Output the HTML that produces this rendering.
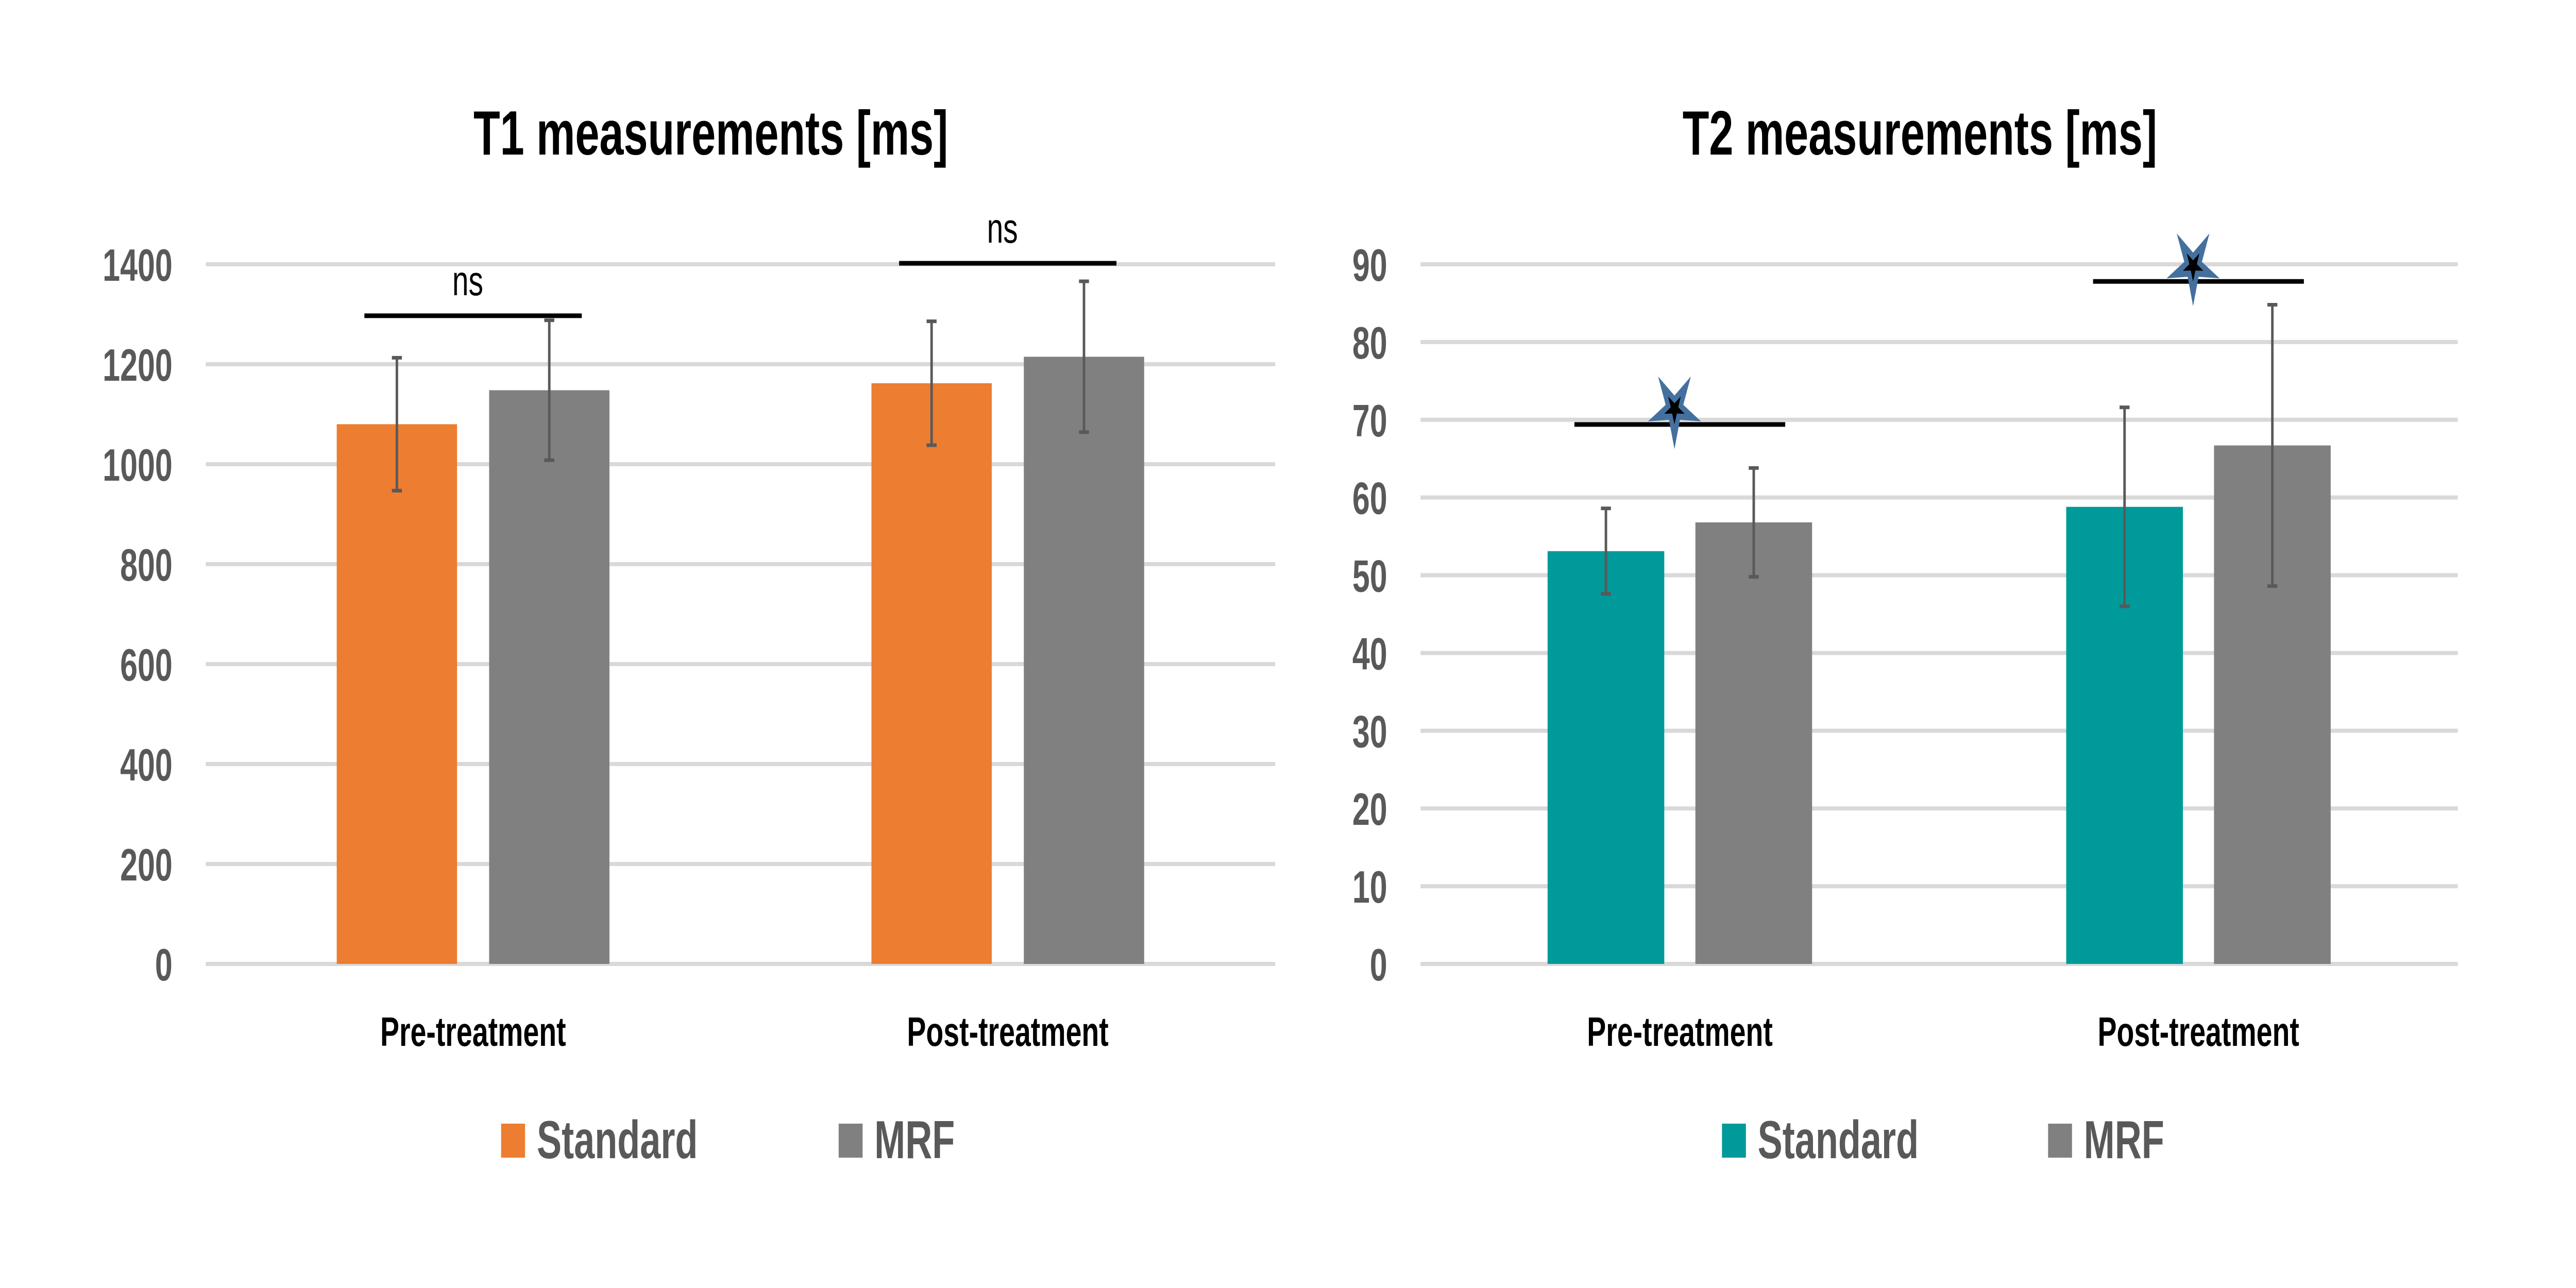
<!DOCTYPE html>
<html><head><meta charset="utf-8"><style>
html,body{margin:0;padding:0;background:#fff;width:100%;height:100%;overflow:hidden;}
svg{display:block;font-family:"Liberation Sans",sans-serif;width:100vw;height:100vh;}
</style></head><body>
<svg id="root" viewBox="0 0 7212 2500" preserveAspectRatio="none" xmlns="http://www.w3.org/2000/svg"></svg>
<script>
const categories = ["Pre-treatment", "Post-treatment"];
const t1Standard = [1080, 1162];
const t1StandardErr = [133, 124];
const t1Mrf = [1148, 1215];
const t1MrfErr = [140, 151];
const t1Ticks = [0, 200, 400, 600, 800, 1000, 1200, 1400];
const t1SigLevels = [1297, 1402];
const t1SigLabels = ["ns", "ns"];

const t2Standard = [53.1, 58.8];
const t2StandardErr = [5.5, 12.8];
const t2Mrf = [56.8, 66.7];
const t2MrfErr = [7.0, 18.1];
const t2Ticks = [0, 10, 20, 30, 40, 50, 60, 70, 80, 90];
const t2SigLevels = [69.4, 87.8];
const t2SigLabels = ["*", "*"];

const NS = "http://www.w3.org/2000/svg";
const root = document.getElementById('root');
function mk(tag, attrs, parent) {
  const e = document.createElementNS(NS, tag);
  for (const k in attrs) e.setAttribute(k, attrs[k]);
  (parent || root).appendChild(e);
  return e;
}

function drawChart(cfg) {
  const g = mk('g', {});
  
  
  const yMax = cfg.ticks[cfg.ticks.length - 1];
  const y = v => cfg.y0 - (v / yMax) * (cfg.y0 - cfg.y1);
  const band = (cfg.x1 - cfg.x0) / categories.length;
  const cx = i => cfg.x0 + band * (i + 0.5);
  const bw = band * 0.225, gap = band * 0.06;

  const title = mk('text', {x: cfg.titleX, y: 300, 'font-size': 122, 'font-weight': 'bold', 'text-anchor': 'middle', fill: '#000'}, g);
  title.textContent = cfg.title;
  
  

  cfg.ticks.forEach(t => {
    const ln = mk('line', {x1: cfg.x0, x2: cfg.x1, y1: y(t), y2: y(t), stroke: '#D9D9D9', 'stroke-width': 8}, g);
    
    
    const tx = mk('text', {x: cfg.tickX, y: y(t) + 32, 'font-size': 88, 'font-weight': 'bold', 'text-anchor': 'end', fill: '#595959'}, g);
    tx.textContent = t;
    
    
  });

  categories.forEach((c, i) => {
    const series = [
      {v: cfg.std[i], e: cfg.stdErr[i], x: cx(i) - gap / 2 - bw, col: cfg.color, n: 'bar-standard-' + i},
      {v: cfg.mrf[i], e: cfg.mrfErr[i], x: cx(i) + gap / 2, col: '#808080', n: 'bar-mrf-' + i}
    ];
    series.forEach(s => {
      const r = mk('rect', {x: s.x, y: y(s.v), width: bw, height: y(0) - y(s.v), fill: s.col}, g);
      
      
      const mx = s.x + bw / 2;
      const eb = mk('path', {d: `M${mx} ${y(s.v + s.e)}V${y(s.v - s.e)}M${mx - 14} ${y(s.v + s.e)}h28M${mx - 14} ${y(s.v - s.e)}h28`, stroke: '#595959', 'stroke-width': 7, fill: 'none'}, g);
      
      
    });
    const cl = mk('text', {x: cx(i), y: 2030, 'font-size': 80, 'font-weight': 'bold', 'text-anchor': 'middle', fill: '#000'}, g);
    cl.textContent = c;
    
    

    const sy = y(cfg.sig[i]);
    const sl = mk('line', {x1: cx(i) - gap / 2 - bw * 0.77, x2: cx(i) + gap / 2 + bw * 0.77, y1: sy, y2: sy, stroke: '#000', 'stroke-width': 9}, g);
    
    
    if (cfg.sigLabels[i] === 'ns') {
      const st = mk('text', {x: cx(i) - 15, y: sy - 40, 'font-size': 82, 'text-anchor': 'middle', fill: '#000'}, g);
      st.textContent = 'ns';
      
      
    } else {
      const scx = cx(i) - 15, scy = sy - 30;
      const pts = (R, r0) => { let p = []; for (let k = 0; k < 10; k++) { const a = Math.PI / 2 + k * Math.PI / 5; const rr = k % 2 ? r0 : R; p.push((scx + rr * Math.cos(a)).toFixed(1) + ',' + (scy + rr * Math.sin(a)).toFixed(1)); } return p.join(' '); };
      const s1 = mk('polygon', {points: pts(78, 26), fill: '#44709F'}, g);
      
      
      const s2 = mk('polygon', {points: pts(30, 11), fill: '#000'}, g);
      
      
      const hid = mk('text', {x: scx, y: scy, 'font-size': 1, fill: 'none'}, g);
      hid.textContent = cfg.sigLabels[i];
    }
  });

  const lg = mk('g', {}, g);
  
  
  [[cfg.legX1, cfg.color, 'Standard'], [cfg.legX2, '#808080', 'MRF']].forEach(([lx, col, lab]) => {
    const sq = mk('rect', {x: lx, y: 2181, width: 67, height: 66, fill: col}, lg);
    
    
    const lt = mk('text', {x: lx + 100, y: 2248, 'font-size': 104, 'font-weight': 'bold', fill: '#595959'}, lg);
    lt.textContent = lab;
    
    
  });
}

drawChart({name: 't1-chart', title: 'T1 measurements [ms]', titleX: 1990, x0: 576, x1: 3570, y0: 1871, y1: 513, tickX: 483,
  ticks: t1Ticks, std: t1Standard, stdErr: t1StandardErr, mrf: t1Mrf, mrfErr: t1MrfErr, sig: t1SigLevels, sigLabels: t1SigLabels,
  color: '#ED7D31', legX1: 1403, legX2: 2348});
drawChart({name: 't2-chart', title: 'T2 measurements [ms]', titleX: 5375, x0: 3977, x1: 6881, y0: 1871, y1: 513, tickX: 3884,
  ticks: t2Ticks, std: t2Standard, stdErr: t2StandardErr, mrf: t2Mrf, mrfErr: t2MrfErr, sig: t2SigLevels, sigLabels: t2SigLabels,
  color: '#009A9A', legX1: 4821, legX2: 5734});
</script>
</body></html>
